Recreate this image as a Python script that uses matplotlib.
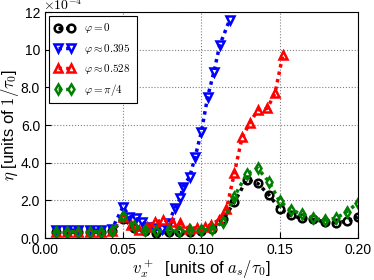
import numpy as np
import matplotlib
matplotlib.use("Agg")
import matplotlib.pyplot as plt

plt.rcParams['mathtext.fontset'] = 'cm'
plt.rcParams['font.family'] = ['Liberation Sans', 'DejaVu Sans']

# eta in units of 1e-4 / tau_0
x_phi0 = [0.007, 0.014, 0.021, 0.029, 0.036, 0.043, 0.050, 0.057, 0.064, 0.071,
          0.079, 0.086, 0.093, 0.100, 0.107, 0.114, 0.121, 0.129, 0.136, 0.143,
          0.150, 0.157, 0.164, 0.171, 0.179, 0.186, 0.193, 0.200]
y_phi0 = [0.3, 0.3, 0.3, 0.3, 0.3, 0.35, 1.0, 0.55, 0.35, 0.25,
          0.3, 0.3, 0.3, 0.35, 0.5, 1.0, 1.9, 3.1, 2.9, 2.3,
          1.55, 1.2, 1.05, 1.0, 0.85, 0.8, 0.9, 1.1]

x_phi1 = [0.007, 0.014, 0.021, 0.029, 0.036, 0.043, 0.050, 0.054, 0.058, 0.062,
          0.066, 0.070, 0.075, 0.079, 0.083, 0.0865, 0.088, 0.0925, 0.096, 0.100,
          0.104, 0.108, 0.1117, 0.118]
y_phi1 = [0.42, 0.42, 0.42, 0.42, 0.42, 0.5, 1.66, 1.13, 1.04, 0.86,
          0.6, 0.55, 0.5, 0.8, 1.57, 2.1, 2.7, 3.25, 4.31, 5.64,
          7.5, 8.82, 10.24, 11.57]

x_phi2 = [0.007, 0.014, 0.021, 0.029, 0.036, 0.043, 0.050, 0.055, 0.060, 0.065,
          0.0705, 0.0756, 0.0814, 0.0865, 0.092, 0.097, 0.102, 0.106, 0.111, 0.116,
          0.121, 0.126, 0.131, 0.136, 0.142, 0.147, 0.152]
y_phi2 = [0.33, 0.33, 0.33, 0.33, 0.33, 0.35, 1.1, 0.7, 0.42, 0.6,
          0.86, 0.95, 0.86, 0.78, 0.5, 0.55, 0.6, 0.7, 0.95, 1.52,
          3.43, 5.34, 6.12, 6.79, 6.88, 7.68, 9.71]

x_phi3 = x_phi0
y_phi3 = [0.33, 0.33, 0.33, 0.33, 0.33, 0.35, 1.15, 0.65, 0.45, 0.35,
          0.4, 0.35, 0.4, 0.4, 0.5, 0.85, 2.2, 3.4, 3.7, 3.0,
          1.95, 1.5, 1.27, 1.05, 0.95, 1.05, 1.4, 1.87]

labels = [r'$\varphi=0$', r'$\varphi\approx0.395$', r'$\varphi\approx0.528$', r'$\varphi=\pi/4$']
yticks = [0, 2, 4, 6, 8, 10, 12]
yticklabels = ['0.0', '2.0', '4.0', '6.0', '8.0', '10', '12']
xticks = [0.0, 0.05, 0.10, 0.15, 0.20]

fig = plt.figure(figsize=(3.74, 2.8), dpi=100)
ax = fig.add_axes([0.12, 0.15, 0.837, 0.807])

series = [(x_phi0, y_phi0, 'k', 'o'),
          (x_phi1, y_phi1, 'b', 'v'),
          (x_phi2, y_phi2, 'r', '^'),
          (x_phi3, y_phi3, 'g', 'd')]
for (xs, ys, c, m), lab in zip(series, labels):
    ax.plot(xs, ys, color=c, marker=m, ls=(0, (1, 1.2)), lw=2.5, ms=5.5,
            mfc='none', mew=1.8, label=lab)

ax.set_xlim(0, 0.2)
ax.set_ylim(0, 12)
ax.set_xticks(xticks)
ax.set_xticklabels(['%.2f' % v for v in xticks])
ax.set_yticks(yticks)
ax.set_yticklabels(yticklabels)
ax.tick_params(labelsize=10, direction='in', length=4)
ax.grid(True, ls=':', color='gray', lw=0.8)
ax.text(-0.005, 0.995, r'$\times10^{-4}$', transform=ax.transAxes, fontsize=10,
        va='bottom', ha='left')

ax.set_xlabel(r'$v_x^+$  [units of $a_s/\tau_0$]', fontsize=12, labelpad=1)
ax.set_ylabel(r'$\eta$ [units of $1/\tau_0$]', fontsize=12, labelpad=0)

leg = ax.legend(loc='upper left', numpoints=2, fontsize=8, fancybox=False,
                framealpha=1, edgecolor='k', handlelength=1.8,
                borderpad=0.5, labelspacing=0.55, handletextpad=0.9,
                borderaxespad=0.35)
leg.get_frame().set_linewidth(0.8)

fig.savefig('out.png', dpi=100)
